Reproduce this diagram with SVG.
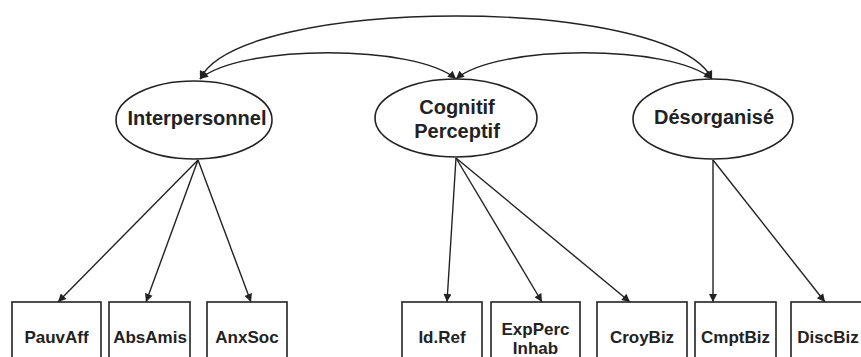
<svg xmlns="http://www.w3.org/2000/svg" width="861" height="357" viewBox="0 0 861 357">
<style>
  .bg{fill:#ffffff}
  .ell{fill:#ffffff;stroke:#222;stroke-width:1.6}
  .box{fill:#ffffff;stroke:#222;stroke-width:1.6}
  .lt{font-family:"Liberation Sans",Arial,sans-serif;font-weight:bold;font-size:20px;fill:#222;text-anchor:middle}
  .bt{font-family:"Liberation Sans",Arial,sans-serif;font-weight:bold;font-size:17px;fill:#222;text-anchor:middle}
  .con{fill:none;stroke:#222;stroke-width:1.4}
</style>
<defs>
  <marker id="ah" viewBox="0 0 10 10" refX="10" refY="5" markerWidth="10" markerHeight="8" markerUnits="userSpaceOnUse" orient="auto-start-reverse">
    <path d="M0,0 L10,5 L0,10 Z" fill="#222"/>
  </marker>
</defs>
<rect class="bg" x="0" y="0" width="861" height="357"/>
<g id="connectors">
  <path class="con" d="M200,79 C240,-5 672,-5 712,79" marker-start="url(#ah)" marker-end="url(#ah)"/>
  <path class="con" d="M200,79 C240,44 416,44 456,79" marker-start="url(#ah)" marker-end="url(#ah)"/>
  <path class="con" d="M456,79 C496,44 672,44 712,79" marker-start="url(#ah)" marker-end="url(#ah)"/>
  <line class="con" x1="198" y1="160" x2="58" y2="302" marker-end="url(#ah)"/>
  <line class="con" x1="198" y1="160" x2="146" y2="302" marker-end="url(#ah)"/>
  <line class="con" x1="198" y1="160" x2="251" y2="302" marker-end="url(#ah)"/>
  <line class="con" x1="456" y1="158" x2="447" y2="302" marker-end="url(#ah)"/>
  <line class="con" x1="456" y1="158" x2="542" y2="302" marker-end="url(#ah)"/>
  <line class="con" x1="456" y1="158" x2="630" y2="302" marker-end="url(#ah)"/>
  <line class="con" x1="713" y1="160" x2="713" y2="302" marker-end="url(#ah)"/>
  <line class="con" x1="713" y1="160" x2="825" y2="302" marker-end="url(#ah)"/>
</g>
<g id="Interpersonnel">
  <ellipse class="ell" cx="194" cy="120" rx="78" ry="39"/>
  <text class="lt" x="197" y="125">Interpersonnel</text>
</g>
<g id="CognitifPerceptif">
  <ellipse class="ell" cx="456" cy="118" rx="81" ry="39"/>
  <text class="lt" x="457" y="114">Cognitif</text>
  <text class="lt" x="457" y="138">Perceptif</text>
</g>
<g id="Desorganise">
  <ellipse class="ell" cx="713" cy="119" rx="80" ry="40"/>
  <text class="lt" x="714" y="124">Désorganisé</text>
</g>
<g id="PauvAff">
  <rect class="box" x="12" y="302" width="89" height="80"/>
  <text class="bt" x="56.5" y="343">PauvAff</text>
</g>
<g id="AbsAmis">
  <rect class="box" x="109" y="302" width="81" height="80"/>
  <text class="bt" x="150" y="343">AbsAmis</text>
</g>
<g id="AnxSoc">
  <rect class="box" x="207" y="302" width="80" height="80"/>
  <text class="bt" x="247" y="343">AnxSoc</text>
</g>
<g id="IdRef">
  <rect class="box" x="402" y="302" width="80" height="80"/>
  <text class="bt" x="442" y="343">Id.Ref</text>
</g>
<g id="ExpPercInhab">
  <rect class="box" x="491" y="302" width="89" height="80"/>
  <text class="bt" x="535.5" y="335">ExpPerc</text>
  <text class="bt" x="535.5" y="354">Inhab</text>
</g>
<g id="CroyBiz">
  <rect class="box" x="597" y="302" width="90" height="80"/>
  <text class="bt" x="642" y="343">CroyBiz</text>
</g>
<g id="CmptBiz">
  <rect class="box" x="695" y="302" width="81" height="80"/>
  <text class="bt" x="735.5" y="343">CmptBiz</text>
</g>
<g id="DiscBiz">
  <rect class="box" x="791" y="302" width="90" height="80"/>
  <text class="bt" x="828" y="343">DiscBiz</text>
</g>
</svg>
